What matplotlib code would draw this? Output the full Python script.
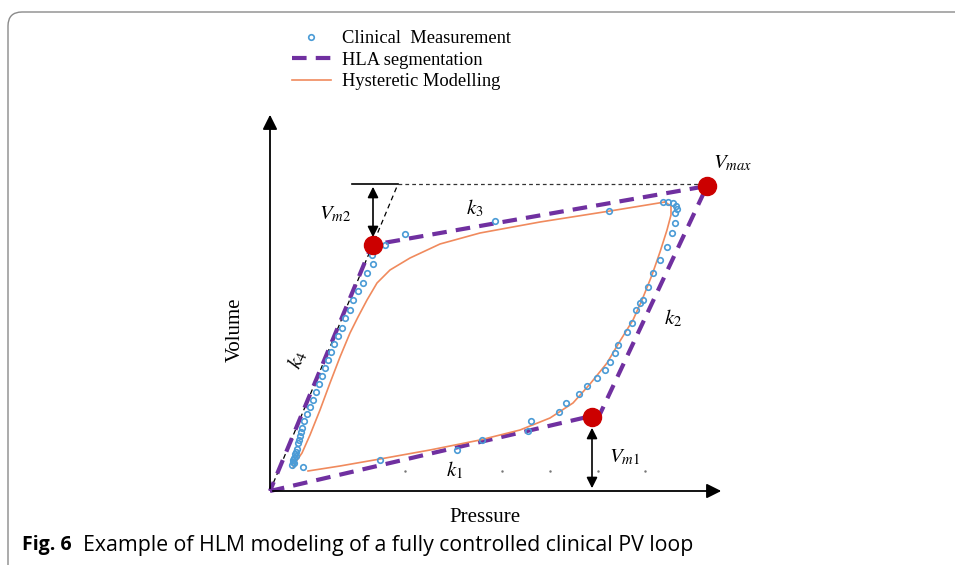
# PV loop with hysteretic model and HLA segmentation (Fig. 6 recreation)
import numpy as np
import matplotlib
matplotlib.use('Agg')
import matplotlib.pyplot as plt
from matplotlib.patches import FancyBboxPatch
from matplotlib.transforms import IdentityTransform

plt.rcParams['font.family'] = 'serif'
plt.rcParams['font.serif'] = ['Liberation Serif', 'DejaVu Serif']
plt.rcParams['mathtext.fontset'] = 'stix'

# clinical measurement, inflation branch (bottom then right side)
meas_in_p = [3.3, 11.0, 18.7, 21.2, 25.8, 26.1, 28.9, 29.6, 30.9, 31.7, 32.7, 33.5, 34.0, 34.5,
             34.8, 35.7, 36.2, 36.6, 37.0, 37.3, 37.8, 38.3, 39.0, 39.7, 40.2, 40.5, 40.5, 40.7,
             40.6, 40.3, 39.8]
meas_in_v = [2.4, 3.1, 4.1, 5.1, 6.0, 7.0, 7.9, 8.8, 9.7, 10.5, 11.3, 12.1, 12.9, 13.8,
             14.6, 15.9, 16.8, 18.1, 18.8, 19.1, 20.4, 21.8, 23.1, 24.4, 25.8, 26.8, 27.8, 28.2,
             28.5, 28.8, 28.9]
# clinical measurement, deflation branch (top then left side)
meas_out_p = [39.3, 33.9, 22.5, 13.5, 11.5, 10.2, 10.3, 9.7, 9.3, 8.8, 8.3, 8.0, 7.5, 7.2, 6.8,
              6.4, 6.1, 5.8, 5.5, 5.2, 4.9, 4.6, 4.3, 4.0, 3.7, 3.4, 3.2, 3.1, 3.0, 2.9, 2.8, 2.7,
              2.6, 2.5, 2.4, 2.3, 2.2, 2.4, 2.6, 2.3]
meas_out_v = [28.9, 28.0, 27.0, 25.7, 24.6, 23.6, 22.7, 21.8, 20.8, 20.0, 19.1, 18.1, 17.3, 16.3, 15.5,
              14.7, 13.9, 13.1, 12.3, 11.5, 10.7, 9.9, 9.1, 8.4, 7.7, 7.0, 6.3, 5.9, 5.5, 5.1, 4.8, 4.2,
              3.9, 3.7, 3.3, 2.9, 2.6, 2.8, 3.5, 3.1]

# hysteretic model
model_in_p = [3.8, 7.0, 11.0, 16.0, 21.0, 25.0, 28.0, 30.3, 32.0, 33.7, 35.0, 36.3, 37.2, 38.2,
              39.0, 39.7, 40.1, 40.1, 39.5]
model_in_v = [2.0, 2.5, 3.2, 4.1, 5.1, 6.1, 7.3, 8.8, 10.7, 12.8, 15.0, 17.1, 19.1, 21.6,
              23.9, 26.1, 27.6, 28.5, 28.9]
model_out_p = [39.5, 34.0, 27.0, 21.0, 17.0, 14.0, 12.0, 10.7, 9.7, 8.8, 8.0, 7.0, 6.0, 5.0,
               4.0, 3.2, 2.5, 2.3]
model_out_v = [28.9, 28.0, 26.9, 25.8, 24.7, 23.3, 22.1, 20.8, 19.1, 17.4, 15.8, 13.4, 10.8, 8.1,
               5.6, 3.8, 2.8, 2.3]

# HLA segmentation corners: origin -> Vm1 -> Vmax -> Vm2 -> origin
hla_p = [0.0, 33.0, 43.7, 10.2, 0.0]
hla_v = [0.0, 7.7, 30.5, 24.6, 0.0]
vm1 = (32.2, 7.4)
vmax = (43.7, 30.5)
vm2 = (10.3, 24.6)
ext_top = (12.8, 30.7)   # k4 extended up to the Vmax level

stray_p = [13.5, 23.2, 28.0, 32.8, 37.5]
stray_v = [2.0, 2.0, 2.0, 2.0, 2.0]

purple = '#7030a0'
blue = '#4a9bd6'
orange = '#f08a5d'
red = '#cc0000'

fig = plt.figure(figsize=(9.55, 5.65), dpi=100)
ax = fig.add_axes([0, 0, 1, 1])
ax.set_xlim(-27, 68.5)
ax.set_ylim(-7.4, 49.1)
ax.axis('off')

# axes with arrows
ax.annotate('', xy=(0, 37.9), xytext=(0, 0),
            arrowprops=dict(arrowstyle='-|>', color='black', lw=1.3, mutation_scale=22))
ax.annotate('', xy=(45.4, 0), xytext=(0, 0),
            arrowprops=dict(arrowstyle='-|>', color='black', lw=1.3, mutation_scale=22))

# guide lines for Vmax / Vm2
ax.plot([0, ext_top[0]], [0, ext_top[1]], color='black', lw=0.9, ls=(0, (4, 3)))
ax.plot([ext_top[0], vmax[0]], [ext_top[1], ext_top[1]], color='#333333', lw=0.9, ls=(0, (3, 2.5)))
ax.plot([8.2, ext_top[0]], [ext_top[1], ext_top[1]], color='black', lw=1.2)

hla, = ax.plot(hla_p, hla_v, color=purple, lw=3, dashes=(3.5, 2.2), solid_capstyle='butt')
mod, = ax.plot(model_in_p, model_in_v, color=orange, lw=1.2)
ax.plot(model_out_p, model_out_v, color=orange, lw=1.2)
meas, = ax.plot(meas_in_p, meas_in_v, 'o', mfc='none', mec=blue, ms=4, mew=1.2)
ax.plot(meas_out_p, meas_out_v, 'o', mfc='none', mec=blue, ms=4, mew=1.2)
ax.plot(stray_p, stray_v, '.', color='#777777', ms=1.5)

ax.plot([vm1[0], vmax[0], vm2[0]], [vm1[1], vmax[1], vm2[1]], 'o', color=red, ms=13, zorder=5)

# Vm1 / Vm2 double arrows
ax.annotate('', xy=(vm2[0], 25.1), xytext=(vm2[0], ext_top[1]),
            arrowprops=dict(arrowstyle='<|-|>', color='black', lw=1.2, mutation_scale=16))
ax.annotate('', xy=(vm1[0], 6.6), xytext=(vm1[0], 0),
            arrowprops=dict(arrowstyle='<|-|>', color='black', lw=1.2, mutation_scale=16))

tk = dict(fontsize=15, ha='center', va='center')
ax.text(46.3, 32.8, r'$V_{max}$', **tk)
ax.text(6.5, 27.7, r'$V_{m2}$', **tk)
ax.text(35.5, 3.4, r'$V_{m1}$', **tk)
ax.text(20.5, 28.3, r'$k_3$', **tk)
ax.text(40.3, 17.3, r'$k_2$', **tk)
ax.text(18.5, 2.1, r'$k_1$', **tk)
ax.text(2.8, 13.1, r'$k_4$', rotation=68, **tk)

ax.text(-3.5, 16.1, 'Volume', rotation=90, fontsize=15, ha='center', va='center')
ax.text(21.5, -2.7, 'Pressure', fontsize=15, ha='center', va='center')

ax.legend([meas, hla, mod], ['Clinical  Measurement', 'HLA segmentation', 'Hysteretic Modelling'],
          loc='upper left', bbox_to_anchor=(292 / 955, 1 - 30 / 565), frameon=False,
          fontsize=13.3, handlelength=2.1, handletextpad=0.6, labelspacing=0.25, borderpad=0,
          borderaxespad=0)

# caption and frame
cap_font = ['Open Sans', 'DejaVu Sans']
fig.text(22 / 955, 1 - 545 / 565, 'Fig. 6', fontsize=14, fontweight='bold',
         family=cap_font, va='center')
fig.text(83 / 955, 1 - 545 / 565, 'Example of HLM modeling of a fully controlled clinical PV loop',
         fontsize=15.3, family=cap_font, va='center')
frame = FancyBboxPatch((8, -30), 990, 565 - 12 + 30, boxstyle='round,pad=0,rounding_size=14',
                       transform=IdentityTransform(), fill=False, edgecolor='#8a8a8a', lw=1.0)
fig.add_artist(frame)

fig.savefig('out.png', dpi=100)
